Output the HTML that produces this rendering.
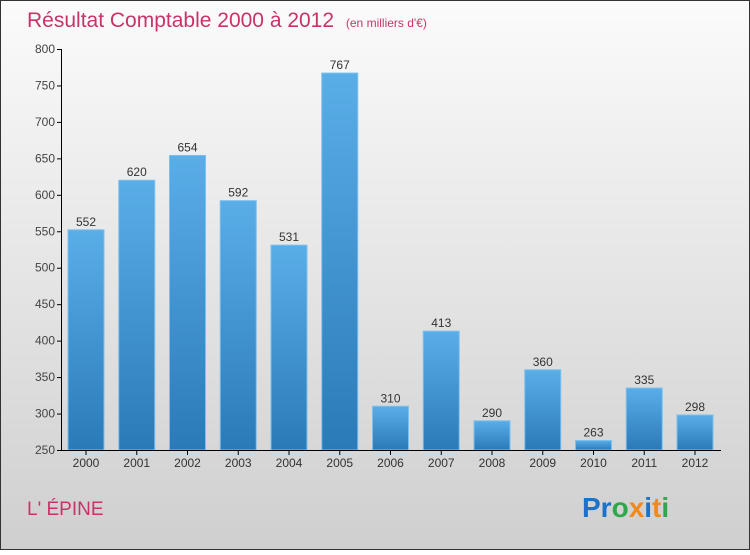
<!DOCTYPE html>
<html><head><meta charset="utf-8"><style>
html,body{margin:0;padding:0}
body{width:750px;height:550px;overflow:hidden;font-family:"Liberation Sans",sans-serif}
</style></head><body>
<svg width="750" height="550" xmlns="http://www.w3.org/2000/svg">
<defs>
<linearGradient id="bg" x1="0" y1="0" x2="0" y2="1"><stop offset="0" stop-color="#fbfbfb"/><stop offset="1" stop-color="#cfcfcf"/></linearGradient>
<linearGradient id="bar" x1="0" y1="0" x2="0" y2="1"><stop offset="0" stop-color="#5aaee8"/><stop offset="1" stop-color="#2a7ab8"/></linearGradient>
</defs>
<rect x="0.5" y="0.5" width="749" height="549" fill="url(#bg)" stroke="#333"/>
<text x="27" y="27" font-size="21" fill="#c8336a">Résultat Comptable 2000 à 2012 <tspan font-size="12" dx="6">(en milliers d'€)</tspan></text>
<g id="yaxis"></g>
<g id="bars"></g>
<g id="xaxis"></g>
<text x="27" y="515" font-size="19" fill="#c8336a">L' ÉPINE</text>
<text x="582" y="517" font-size="28" font-weight="bold"><tspan fill="#1a73c8">Pr</tspan><tspan fill="#2ea84a">o</tspan><tspan fill="#f08a1c">x</tspan><tspan fill="#1a73c8">i</tspan><tspan fill="#f08a1c">t</tspan><tspan fill="#2ea84a">i</tspan></text>
</svg>
<script>
const categories=["2000","2001","2002","2003","2004","2005","2006","2007","2008","2009","2010","2011","2012"];
const values=[552,620,654,592,531,767,310,413,290,360,263,335,298];
const yTicks=[250,300,350,400,450,500,550,600,650,700,750,800];
const NS="http://www.w3.org/2000/svg";
const y=v=>450-(v-250)*401/550;
const x=i=>86+i*50.75;
function mk(t,a,p){const e=document.createElementNS(NS,t);for(const k in a)e.setAttribute(k,a[k]);p.appendChild(e);return e;}
const ya=document.getElementById('yaxis'),xa=document.getElementById('xaxis'),bg=document.getElementById('bars');
mk('line',{x1:61.5,y1:49,x2:61.5,y2:450,stroke:'#000'},ya);
yTicks.forEach(t=>{
  mk('line',{x1:57,x2:62,y1:y(t)+0.5,y2:y(t)+0.5,stroke:'#000'},ya);
  const tx=mk('text',{x:55,y:y(t)+4,'font-size':12,fill:'#444','text-anchor':'end'},ya);
  tx.textContent=t;
  
  
});
values.forEach((v,i)=>{
  const r=mk('rect',{x:x(i)-18,y:y(v),width:36,height:450-y(v),fill:'url(#bar)',stroke:'#7cc0ee','stroke-width':1},bg);
  
  
  const l=mk('text',{x:x(i),y:y(v)-4,'font-size':12,fill:'#333','text-anchor':'middle'},bg);
  l.textContent=v;
  
  
  mk('line',{x1:x(i),x2:x(i),y1:450,y2:455,stroke:'#000'},xa);
  const c=mk('text',{x:x(i),y:467,'font-size':12,fill:'#333','text-anchor':'middle'},xa);
  c.textContent=categories[i];
  
  
});
mk('line',{x1:61,y1:450.5,x2:721,y2:450.5,stroke:'#000'},xa);
</script>
</body></html>
